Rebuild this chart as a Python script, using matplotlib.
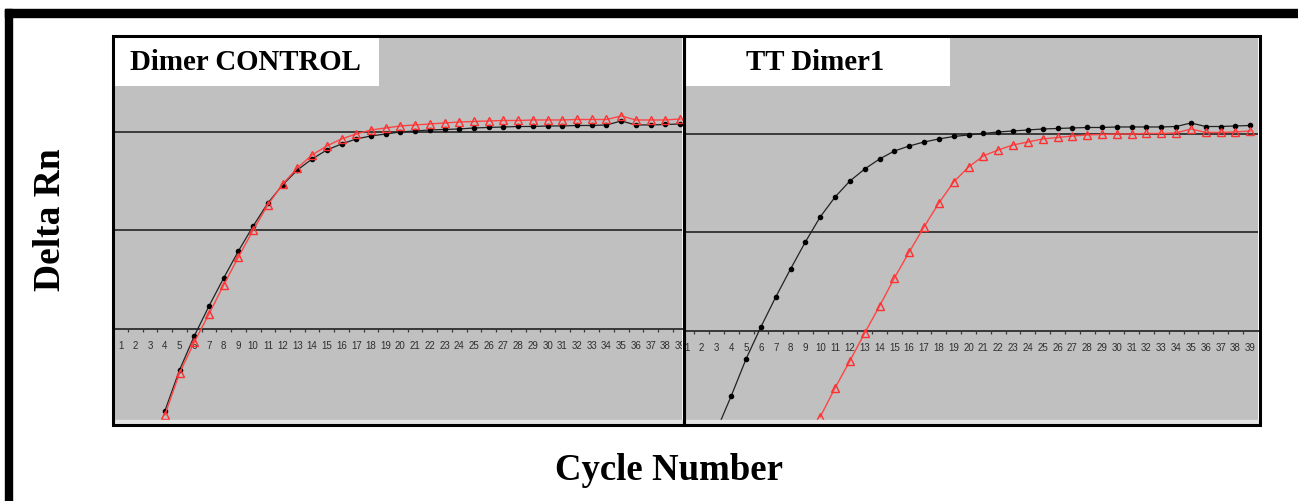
import numpy as np
import matplotlib
matplotlib.use("Agg")
import matplotlib.pyplot as plt
from matplotlib.patches import Rectangle
from matplotlib import transforms

# cycles and Delta Rn values (log scale, gridlines at 0.01 / 0.1 / 1)
cyc_ctrl = list(range(4, 40))
ctrl_black = [0.00147, 0.00384, 0.00849, 0.0171, 0.0330, 0.0619, 0.111, 0.190, 0.290,
              0.411, 0.532, 0.656, 0.755, 0.849, 0.911, 0.954, 1.0, 1.024, 1.048, 1.06,
              1.073, 1.098, 1.111, 1.124, 1.137, 1.137, 1.151, 1.151, 1.164, 1.164,
              1.178, 1.293, 1.178, 1.178, 1.191, 1.206]
ctrl_red = [0.00134, 0.00357, 0.00738, 0.0142, 0.0280, 0.0538, 0.101, 0.182, 0.296,
            0.431, 0.584, 0.721, 0.849, 0.954, 1.048, 1.098, 1.151, 1.178, 1.206, 1.234,
            1.263, 1.278, 1.293, 1.308, 1.308, 1.324, 1.324, 1.324, 1.339, 1.339,
            1.339, 1.454, 1.324, 1.324, 1.324, 1.355]

cyc_tt_black = list(range(3, 40))
tt_black = [0.00097, 0.00219, 0.00520, 0.0110, 0.0221, 0.0426, 0.0802, 0.144, 0.229,
            0.333, 0.441, 0.557, 0.672, 0.755, 0.829, 0.890, 0.943, 0.977, 1.012, 1.048,
            1.073, 1.098, 1.124, 1.137, 1.151, 1.164, 1.164, 1.178, 1.178, 1.178, 1.178,
            1.191, 1.293, 1.191, 1.191, 1.206, 1.220]
cyc_tt_red = list(range(10, 40))
tt_red = [0.00134, 0.00264, 0.00496, 0.00954, 0.0179, 0.0345, 0.0634, 0.114, 0.199,
          0.326, 0.462, 0.598, 0.688, 0.773, 0.829, 0.890, 0.921, 0.954, 0.977, 0.988,
          1.0, 1.0, 1.012, 1.012, 1.024, 1.124, 1.036, 1.036, 1.048, 1.073]

tick_cycles = list(range(1, 40))
grid_vals = [0.01, 0.1, 1.0]
titles = ["Dimer CONTROL", "TT Dimer1"]

W, H = 1298, 502
fig = plt.figure(figsize=(W / 100, H / 100), dpi=100)
serif = ['Liberation Serif', 'DejaVu Serif']


def fbox(x0, y0, x1, y1):
    # pixel box (top-left origin) -> figure fraction rect
    return [x0 / W, 1 - y1 / H, (x1 - x0) / W, (y1 - y0) / H]


panels = [
    dict(rect=fbox(114, 38, 682, 424), xlim=(0.545, 39.13), ylim=(0.00111, 9.21),
         series=[(cyc_ctrl, ctrl_black, 'k'), (cyc_ctrl, ctrl_red, 'r')],
         tbox=(0.002, 0.4665), tx=0.232),
    dict(rect=fbox(685, 38, 1258, 424), xlim=(0.879, 39.52), ylim=(0.00116, 9.66),
         series=[(cyc_tt_black, tt_black, 'k'), (cyc_tt_red, tt_red, 'r')],
         tbox=(0.002, 0.4625), tx=0.227),
]

for p, title in zip(panels, titles):
    ax = fig.add_axes(p['rect'])
    ax.set_facecolor('#c0c0c0')
    ax.set_yscale('log')
    ax.set_xlim(*p['xlim'])
    ax.set_ylim(*p['ylim'])
    for s in ['top', 'left', 'right']:
        ax.spines[s].set_visible(False)
    ax.spines['bottom'].set_position(('data', 0.01))
    ax.spines['bottom'].set_color('#3a3a3a')
    ax.spines['bottom'].set_linewidth(1.4)
    ax.set_yticks([])
    ax.yaxis.set_minor_locator(matplotlib.ticker.NullLocator())
    ax.set_xticks([])
    ax.set_xticks(np.arange(1.5, 39, 1.0), minor=True)
    ax.tick_params(axis='x', which='minor', length=2.5, width=0.9, color='#3a3a3a',
                   direction='out', labelbottom=False)
    for g in grid_vals:
        ax.axhline(g, color='#3a3a3a', lw=1.4, zorder=1)

    off = transforms.offset_copy(ax.transData, fig=fig, x=0, y=-16, units='dots')
    for c in tick_cycles:
        ax.text(c, 0.01, str(c), transform=off, ha='center', va='center',
                fontsize=7, color='#2e2e2e', family=['Liberation Sans', 'DejaVu Sans'],
                clip_on=True)

    for xs, ys, col in p['series']:
        if col == 'k':
            ax.plot(xs, ys, color='#222222', lw=0.9, marker='o', ms=3.0,
                    mfc='black', mec='black', zorder=3)
        else:
            ax.plot(xs, ys, color='#ff4545', lw=1.0, marker='^', ms=5.5,
                    mfc='none', mec='#ff3030', mew=1.0, zorder=4)

    # light strip at the bottom edge
    ax.add_patch(Rectangle((0, 0), 1, 0.008, transform=ax.transAxes,
                           color='#e4e4e4', zorder=5, clip_on=False))
    # white title box
    x0, x1 = p['tbox']
    ax.add_patch(Rectangle((x0, 0.872), x1 - x0, 0.128, transform=ax.transAxes,
                           facecolor='white', edgecolor='none', zorder=6))
    ax.text(p['tx'], 0.937, title, transform=ax.transAxes, ha='center', va='center',
            fontsize=20.8, fontweight='bold', family=serif, zorder=7)

# panel frames
for x0, x1 in [(112.5, 683.5), (683.5, 1260)]:
    fig.add_artist(Rectangle((x0 / W, 1 - 426 / H), (x1 - x0) / W, (426 - 37) / H,
                             transform=fig.transFigure, fill=False,
                             edgecolor='black', lw=2.2))

# outer black border (top and left)
fig.add_artist(Rectangle((5 / W, 1 - 17.5 / H), (W - 5) / W, 7.5 / H,
                         transform=fig.transFigure, color='black'))
fig.add_artist(Rectangle((4.5 / W, 0), 7.5 / W, 1 - 10 / H,
                         transform=fig.transFigure, color='black'))

fig.text(51 / W, 1 - 220 / H, 'Delta Rn', rotation=90, ha='center', va='center',
         fontsize=27, fontweight='bold', family=serif)
fig.text(669 / W, 1 - 471 / H, 'Cycle Number', ha='center', va='center',
         fontsize=26.5, fontweight='bold', family=serif)

fig.savefig('out.png', dpi=100)
